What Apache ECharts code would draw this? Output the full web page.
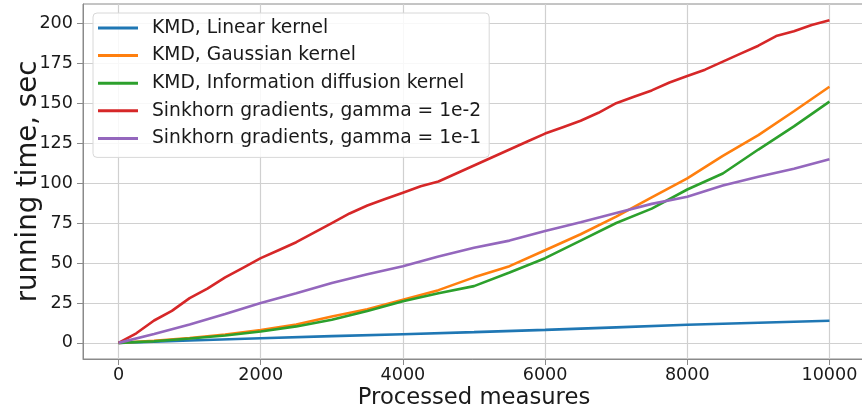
<!DOCTYPE html>
<html>
<head>
<meta charset="utf-8">
<script src="https://cdn.jsdelivr.net/npm/echarts@6/dist/echarts.min.js"></script>
<style>
html,body{margin:0;padding:0;background:#fff;}
#chart{width:862px;height:415px;}
</style>
</head>
<body>
<div id="chart"></div>
<script>
const seriesNames = [
  'KMD, Linear kernel',
  'KMD, Gaussian kernel',
  'KMD, Information diffusion kernel',
  'Sinkhorn gradients, gamma = 1e-2',
  'Sinkhorn gradients, gamma = 1e-1'
];
const xTicks = [0, 2000, 4000, 6000, 8000, 10000];
const yTicks = [0, 25, 50, 75, 100, 125, 150, 175, 200];

const xLinear = [0, 1000, 2000, 3000, 4000, 5000, 6000, 7000, 8000, 9000, 10000];
const yLinear = [0, 1.5, 2.9, 4.2, 5.4, 6.7, 8.1, 9.7, 11.3, 12.6, 13.8];

const xHalf = [0, 500, 1000, 1500, 2000, 2500, 3000, 3500, 4000, 4500, 5000,
               5500, 6000, 6500, 7000, 7500, 8000, 8500, 9000, 9500, 10000];
const yGaussian = [0, 1.3, 3, 5.2, 8, 11.5, 16.5, 21, 27, 33, 41,
                   48, 58, 68, 79, 91, 103, 117, 130, 145, 160.3];
const yDiffusion = [0, 1, 2.7, 4.6, 7.1, 10.3, 14.5, 20, 26, 31, 35.5,
                    44, 53, 64, 75, 84, 96, 106, 121, 135.5, 151];
const ySinkhorn1 = [0, 5.5, 11.5, 18, 25, 31, 37.5, 43, 48, 54, 59.5,
                    64, 70, 75.5, 81.3, 87, 91.5, 98.5, 104, 109, 114.9];

const xQuarter = [0, 250, 500, 750, 1000, 1250, 1500, 1750, 2000, 2250, 2500,
                  2750, 3000, 3250, 3500, 3750, 4000, 4250, 4500, 4750, 5000,
                  5250, 5500, 5750, 6000, 6250, 6500, 6750, 7000, 7250, 7500,
                  7750, 8000, 8250, 8500, 8750, 9000, 9250, 9500, 9750, 10000];
const ySinkhorn2 = [0, 6, 14, 20, 28, 34, 41, 47, 53, 58, 63,
                    69, 75, 81, 86, 90, 94, 98, 101, 106, 111,
                    116, 121, 126, 131, 135, 139, 144, 150, 154, 158,
                    163, 167, 171, 176, 181, 186, 192, 195, 199, 202];

const colors = ['#1f77b4', '#ff7f0e', '#2ca02c', '#d62728', '#9467bd'];
const xsList = [xLinear, xHalf, xHalf, xQuarter, xHalf];
const ysList = [yLinear, yGaussian, yDiffusion, ySinkhorn2, ySinkhorn1];

const FONT = 'DejaVu Sans';
const TXT = '#1a1a1a';
const SPINE = '#8a8a8a';
const GRIDC = '#d0d0d0';

const series = seriesNames.map((name, i) => ({
  name: name,
  type: 'line',
  symbol: 'none',
  showSymbol: false,
  color: colors[i],
  lineStyle: { width: 2.6, color: colors[i] },
  data: xsList[i].map((x, j) => [x, ysList[i][j]]),
  z: 3 + i
}));

const chart = echarts.init(document.getElementById('chart'), null, { renderer: 'canvas' });
chart.setOption({
  animation: false,
  backgroundColor: '#fff',
  textStyle: { fontFamily: FONT },
  grid: {
    left: 83, top: 4, right: -3, bottom: 56,
    outerBoundsMode: 'none',
    containLabel: false,
    show: true, borderColor: SPINE, borderWidth: 1, backgroundColor: 'transparent'
  },
  legend: {
    orient: 'vertical',
    left: 93, top: 13,
    icon: 'rect',
    itemWidth: 40, itemHeight: 3,
    itemGap: 7.6,
    selectedMode: false,
    backgroundColor: 'rgba(255,255,255,0.85)',
    borderColor: '#d8d8d8', borderWidth: 1, borderRadius: 4,
    padding: [5, 8, 9, 5],
    textStyle: { fontFamily: FONT, fontSize: 18.7, color: TXT, lineHeight: 20, padding: [0, 0, 0, 9] },
    data: seriesNames.map((n, i) => ({ name: n, itemStyle: { color: colors[i] } }))
  },
  xAxis: {
    type: 'value',
    min: -500, max: 10500,
    name: 'Processed measures',
    nameLocation: 'middle',
    nameMoveOverlap: false,
    nameGap: 28,
    nameTextStyle: { fontFamily: FONT, fontSize: 22.7, color: TXT },
    axisLine: { show: true, onZero: false, lineStyle: { color: SPINE, width: 1 } },
    axisTick: { show: true, inside: false, length: 6, customValues: xTicks, lineStyle: { color: SPINE, width: 1 } },
    axisLabel: { show: true, customValues: xTicks, margin: 7, fontFamily: FONT, fontSize: 17.6, color: TXT,
                 formatter: v => String(v) },
    splitLine: { show: true, lineStyle: { color: GRIDC, width: 1.2 } }
  },
  yAxis: {
    type: 'value',
    min: -10.1, max: 212.1,
    name: 'running time, sec',
    nameLocation: 'middle',
    nameMoveOverlap: false,
    nameGap: 40,
    nameTextStyle: { fontFamily: FONT, fontSize: 27.6, color: TXT },
    axisLine: { show: true, onZero: false, lineStyle: { color: SPINE, width: 1 } },
    axisTick: { show: true, inside: false, length: 6, customValues: yTicks, lineStyle: { color: SPINE, width: 1 } },
    axisLabel: { show: true, customValues: yTicks, margin: 10, fontFamily: FONT, fontSize: 17.6, color: TXT,
                 formatter: v => String(v) },
    splitLine: { show: true, lineStyle: { color: GRIDC, width: 1.2 } }
  },
  series: series
});
</script>
</body>
</html>
